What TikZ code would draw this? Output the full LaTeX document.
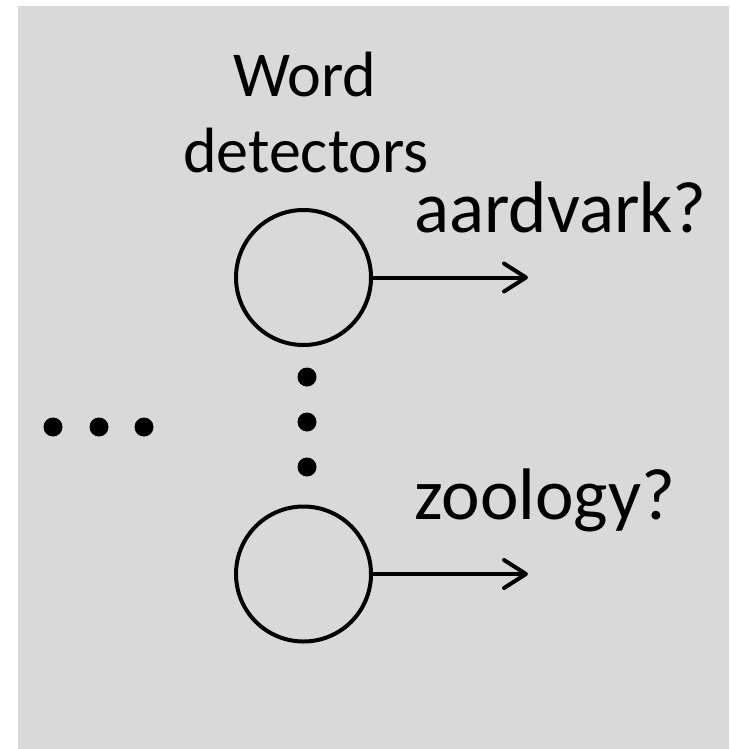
\documentclass[tikz,border=0pt]{standalone}
\usepackage{fontspec}
\setmainfont{Carlito}
\usetikzlibrary{arrows.meta}
\definecolor{bggray}{HTML}{D9D9D9}

\begin{document}
\begin{tikzpicture}[x=0.5pt,y=-0.5pt]
\tikzset{label/.style = {font=\fontsize{36.5}{42}\selectfont,inner sep=0pt}}
\tikzset{title/.style = {font=\fontsize{32}{38}\selectfont,inner sep=0pt}}
\tikzset{detector/.style = {shape=circle,draw,line width=2pt,inner sep=0pt,minimum size=67.5pt}}
\tikzset{dot/.style = {shape=circle,fill,inner sep=0pt,minimum size=9.5pt}}
\tikzset{edge/.style = {line width=2pt,-{Straight Barb[length=11pt,width=14pt,round]}}}
\useasboundingbox (0,0) rectangle (729,749);
\fill[bggray] (18,6) rectangle (729,749);
% texts
\node[title,anchor=base] (word) at (305,97) {Word};
\node[title,anchor=base] (detectors) at (306,172) {detectors};
\node[label,anchor=base west] (aardvark) at (414,232) {aardvark?};
\node[label,anchor=base west] (zoology) at (414,519) {zoology?};
% vertices
\node[detector] (top) at (303.5,277.5) {};
\node[detector] (bottom) at (303.5,574) {};
\coordinate (topout) at (528,277.5);
\coordinate (bottomout) at (528,574);
% dots
\node[dot] (v1) at (307,377) {};
\node[dot] (v2) at (307,422) {};
\node[dot] (v3) at (307,467) {};
\node[dot] (h1) at (53,427) {};
\node[dot] (h2) at (99,427) {};
\node[dot] (h3) at (144,427) {};

%edges
\draw[edge] (top) -- (topout);
\draw[edge] (bottom) -- (bottomout);
\end{tikzpicture}
\end{document}
